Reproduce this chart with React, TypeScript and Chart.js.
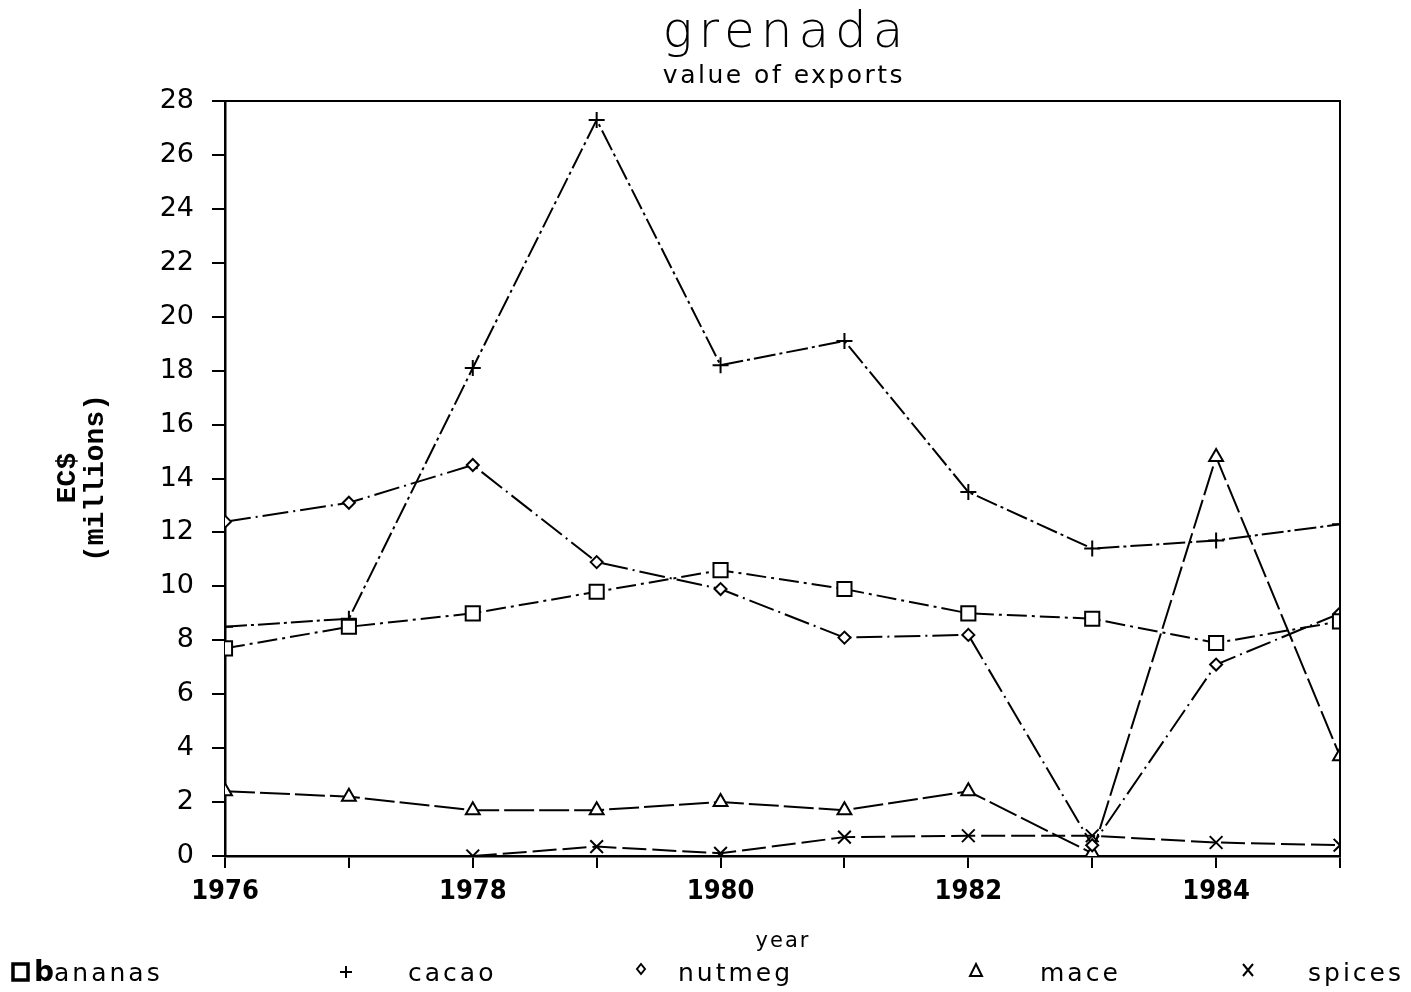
import React, { useEffect, useRef } from "react";
import { Chart, registerables } from "chart.js";

Chart.register(...registerables);

const years = [1976, 1977, 1978, 1979, 1980, 1981, 1982, 1983, 1984, 1985];
const bananas = [7.7, 8.5, 9.0, 9.8, 10.6, 9.9, 9.0, 8.8, 7.9, 8.7];
const cacao = [8.5, 8.8, 18.1, 27.3, 18.2, 19.1, 13.5, 11.4, 11.7, 12.3];
const nutmeg = [12.4, 13.1, 14.5, 10.9, 9.9, 8.1, 8.2, 0.4, 7.1, 9.0];
const mace = [2.4, 2.2, 1.7, 1.7, 2.0, 1.7, 2.4, 0.1, 14.8, 3.7];
const spices = [null, null, 0, 0.35, 0.1, 0.7, 0.75, 0.75, 0.5, 0.4];

const seriesNames = ["bananas", "cacao", "nutmeg", "mace", "spices"];
const titleText = "grenada";
const subtitleText = "value of exports";
const xTitle = "year";
const yTitleLines = ["EC$", "(millions)"];

function pts(vals: (number | null)[]) {
  return years.map((x, i) => ({ x, y: vals[i] }));
}

const textPlugin = {
  id: "texts",
  afterDraw(chart: any) {
    const ctx = chart.ctx as CanvasRenderingContext2D;
    const ca = chart.chartArea;
    ctx.save();
    // box top & right
    ctx.strokeStyle = "#000";
    ctx.lineWidth = 2;
    ctx.beginPath();
    ctx.moveTo(ca.left, ca.top);
    ctx.lineTo(ca.right, ca.top);
    ctx.lineTo(ca.right, ca.bottom);
    ctx.stroke();

    ctx.fillStyle = "#000";
    ctx.textAlign = "center";
    ctx.textBaseline = "alphabetic";
    // title
    (ctx as any).letterSpacing = "6px";
    ctx.font = "300 50px 'DejaVu Sans'";
    ctx.fillText(titleText, 786, 47);
    (ctx as any).letterSpacing = "2.5px";
    ctx.font = "normal 25px 'DejaVu Sans'";
    ctx.fillText(subtitleText, 784, 83);
    // x title
    (ctx as any).letterSpacing = "2px";
    ctx.font = "normal 21px 'DejaVu Sans'";
    ctx.fillText(xTitle, 783, 947);

    // y title
    (ctx as any).letterSpacing = "0px";
    ctx.save();
    ctx.translate(68, 478);
    ctx.rotate(-Math.PI / 2);
    ctx.font = "bold 28px 'Liberation Mono'";
    ctx.textBaseline = "middle";
    ctx.fillText(yTitleLines[0], 0, 0);
    ctx.fillText(yTitleLines[1], 0, 28);
    ctx.restore();

    // legend
    const ly = 981;
    ctx.textAlign = "left";
    // square
    ctx.lineWidth = 3.5;
    ctx.strokeRect(13, 964, 15, 16);
    ctx.font = "bold 28px 'DejaVu Sans'";
    (ctx as any).letterSpacing = "0px";
    ctx.fillText(seriesNames[0].charAt(0), 34, ly);
    (ctx as any).letterSpacing = "3px";
    ctx.font = "normal 25px 'DejaVu Sans'";
    ctx.fillText(seriesNames[0].slice(1), 54, ly);
    ctx.lineWidth = 2;
    // plus
    ctx.beginPath();
    ctx.moveTo(340, 972); ctx.lineTo(352, 972);
    ctx.moveTo(346, 966); ctx.lineTo(346, 978);
    ctx.stroke();
    ctx.fillText(seriesNames[1], 408, ly);
    // diamond
    ctx.beginPath();
    ctx.moveTo(641, 964); ctx.lineTo(645, 969); ctx.lineTo(641, 974); ctx.lineTo(637, 969); ctx.closePath();
    ctx.stroke();
    ctx.fillText(seriesNames[2], 678, ly);
    // triangle
    ctx.beginPath();
    ctx.moveTo(976, 964); ctx.lineTo(982, 976); ctx.lineTo(970, 976); ctx.closePath();
    ctx.stroke();
    ctx.fillText(seriesNames[3], 1040, ly);
    // x
    ctx.beginPath();
    ctx.moveTo(1243, 964); ctx.lineTo(1253, 976);
    ctx.moveTo(1253, 964); ctx.lineTo(1243, 976);
    ctx.stroke();
    ctx.fillText(seriesNames[4], 1308, ly);
    ctx.restore();
  },
};

export default function App() {
  const ref = useRef<HTMLCanvasElement | null>(null);
  useEffect(() => {
    if (!ref.current) return;
    const common = {
      borderColor: "#000",
      borderWidth: 2,
      pointBorderColor: "#000",
      pointBackgroundColor: "#fff",
      pointBorderWidth: 2,
      fill: false,
      tension: 0,
      spanGaps: false,
    };
    const chart = new Chart(ref.current, {
      type: "line",
      data: {
        datasets: [
          { ...common, label: seriesNames[0], data: pts(bananas), pointStyle: "rect", pointRadius: 10, borderDash: [20, 5, 3, 5] },
          { ...common, label: seriesNames[1], data: pts(cacao), pointStyle: "cross", pointRadius: 8, borderDash: [22, 4, 3, 4] },
          { ...common, label: seriesNames[2], data: pts(nutmeg), pointStyle: "rectRot", pointRadius: 6, borderDash: [26, 5, 2, 5] },
          { ...common, label: seriesNames[3], data: pts(mace), pointStyle: "triangle", pointRadius: 8, borderDash: [30, 5] },
          { ...common, label: seriesNames[4], data: pts(spices), pointStyle: "crossRot", pointRadius: 9, borderDash: [24, 6] },
        ],
      } as any,
      options: {
        animation: false,
        responsive: true,
        maintainAspectRatio: false,
        layout: { padding: { top: 101, right: 71, bottom: 0, left: 0 } },
        plugins: { legend: { display: false }, title: { display: false }, tooltip: { enabled: false } },
        scales: {
          x: {
            type: "linear",
            min: 1976,
            max: 1985,
            afterFit: (s: any) => { s.height = 136; },
            border: { display: true, color: "#000", width: 2.5 },
            grid: { drawOnChartArea: false, color: "#000", lineWidth: 2, tickLength: 12 },
            ticks: {
              stepSize: 1,
              autoSkip: false,
              maxRotation: 0,
              color: "#000",
              padding: 8,
              font: { family: "'DejaVu Sans Condensed', 'DejaVu Sans'", weight: "bold", size: 27 },
              callback: (v: any) => (Number(v) % 2 === 0 ? String(v) : ""),
            },
          },
          y: {
            min: 0,
            max: 28,
            afterFit: (s: any) => { s.width = 225; },
            border: { display: true, color: "#000", width: 2.5 },
            grid: { drawOnChartArea: false, color: "#000", lineWidth: 2, tickLength: 13 },
            ticks: {
              stepSize: 2,
              autoSkip: false,
              color: "#000",
              padding: 18,
              font: { family: "'DejaVu Sans'", size: 27 },
            },
          },
        },
      } as any,
      plugins: [textPlugin],
    });
    return () => chart.destroy();
  }, []);
  return (
    <div style={{ position: "fixed", left: 0, top: 0, width: 1411, height: 992, background: "#fff" }}>
      <canvas ref={ref} />
    </div>
  );
}
